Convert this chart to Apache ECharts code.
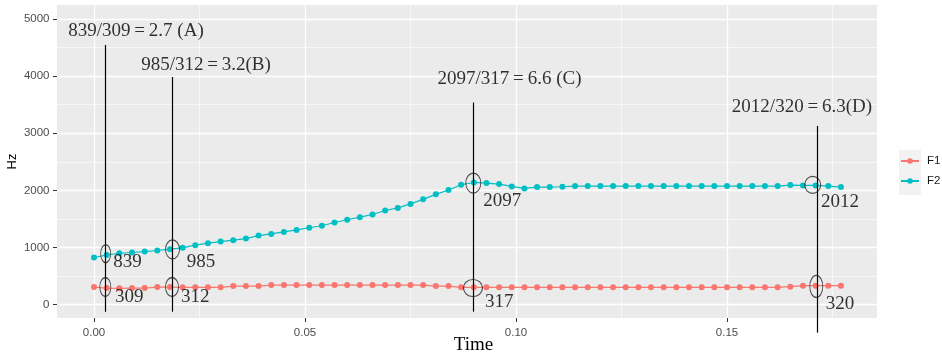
<!DOCTYPE html>
<html>
<head>
<meta charset="utf-8">
<script src="https://cdn.jsdelivr.net/npm/echarts@6/dist/echarts.min.js"></script>
<style>
  html, body { margin: 0; padding: 0; background: #fff; }
  #chart { width: 942px; height: 354px; }
</style>
</head>
<body>
<div id="chart"></div>
<script>
// time points (s)
const times = [0, 0.003, 0.006, 0.009, 0.012, 0.015, 0.018, 0.021, 0.024, 0.027,
  0.03, 0.033, 0.036, 0.039, 0.042, 0.045, 0.048, 0.051, 0.054, 0.057,
  0.06, 0.063, 0.066, 0.069, 0.072, 0.075, 0.078, 0.081, 0.084, 0.087,
  0.09, 0.093, 0.096, 0.099, 0.102, 0.105, 0.108, 0.111, 0.114, 0.117,
  0.12, 0.123, 0.126, 0.129, 0.132, 0.135, 0.138, 0.141, 0.144, 0.147,
  0.15, 0.153, 0.156, 0.159, 0.162, 0.165, 0.168, 0.171, 0.174, 0.177];

// formants (Hz)
const f1 = [309, 291, 286, 291, 291, 309, 309, 303, 303, 303,
  303, 326, 326, 326, 344, 344, 344, 344, 344, 344,
  344, 344, 344, 344, 344, 344, 344, 326, 326, 303,
  303, 303, 303, 303, 303, 303, 303, 303, 303, 303,
  303, 303, 303, 303, 303, 303, 303, 303, 303, 303,
  303, 303, 303, 303, 303, 315, 332, 332, 332, 332];
const f2 = [826, 870, 900, 913, 930, 948, 972, 995, 1042, 1077,
  1104, 1129, 1157, 1209, 1238, 1273, 1308, 1347, 1382, 1439,
  1486, 1531, 1578, 1648, 1694, 1764, 1844, 1931, 2007, 2099,
  2139, 2128, 2111, 2070, 2035, 2058, 2058, 2064, 2076, 2076,
  2076, 2076, 2076, 2076, 2076, 2076, 2076, 2076, 2076, 2076,
  2076, 2076, 2076, 2076, 2076, 2093, 2087, 2087, 2076, 2058];

// axis ticks
const xTicks = [0, 0.05, 0.1, 0.15];
const xMinor = [0.025, 0.075, 0.125, 0.175];
const yTicks = [0, 1000, 2000, 3000, 4000, 5000];
const yMinor = [500, 1500, 2500, 3500, 4500];

// annotations: ratio text, guide lines, rings, value text
const ratioLabels = ['839/309\u2009=\u20092.7 (A)', '985/312\u2009=\u20093.2(B)',
  '2097/317\u2009=\u20096.6 (C)', '2012/320\u2009=\u20096.3(D)'];
const ratioX = [0.00995, 0.02654, 0.09846, 0.16777];
const ratioY = [4790, 4187, 3955, 3462];
const guideX = [0.00268, 0.01855, 0.08988, 0.17133];
const guideTop = [4545, 3986, 3537, 3129];
const guideBottom = [-122, -122, -122, -490];
const ringX = [0.00277, 0.00268, 0.0186, 0.01848, 0.08988, 0.08981, 0.17031, 0.17116];
const ringY = [892, 309, 967, 309, 2128, 292, 2098, 320];
const valueLabels = ['839', '309', '985', '312', '2097', '317', '2012', '320'];
const valueX = [0.00458, 0.00498, 0.02197, 0.02062, 0.09226, 0.09265, 0.17227, 0.17338];
const valueY = [747, 131, 752, 131, 1818, 52, 1801, 17];

// ring sizes in px (w, h)
const ringSizes = [[10, 18], [11, 19], [14, 19], [13, 19], [15, 20], [19, 17], [16, 17], [13, 22]];

const chart = echarts.init(document.getElementById('chart'));

const serif = 'Liberation Serif';
const sans = 'Liberation Sans';

const option = {
  animation: false,
  grid: {
    left: 57, right: 65, top: 5, bottom: 36,
    outerBoundsMode: 'none',
    show: true, backgroundColor: '#EBEBEB', borderWidth: 0
  },
  legend: {
    data: ['F1', 'F2'],
    orient: 'vertical',
    left: 895, top: 150,
    itemWidth: 18, itemHeight: 7, itemGap: 8,
    textStyle: { color: '#1A1A1A', fontSize: 11.5, fontFamily: sans, padding: [0, 0, 0, 3] }
  },
  graphic: [{
    type: 'rect', left: 899, top: 150, z: -1,
    shape: { width: 22, height: 45 },
    style: { fill: '#F2F2F2' }
  }],
  xAxis: [{
    type: 'value', min: -0.00877, max: 0.18555,
    name: 'Time', nameLocation: 'middle', nameGap: 18, nameMoveOverlap: false,
    nameTextStyle: { fontFamily: serif, fontSize: 19, color: '#000', padding: [0, 0, 0, 13] },
    axisLine: { show: false, onZero: false },
    axisTick: { show: true, length: 4, customValues: xTicks, lineStyle: { color: '#333' } },
    axisLabel: {
      customValues: xTicks, margin: 9, color: '#4D4D4D', fontSize: 11.5, fontFamily: sans,
      formatter: v => v.toFixed(2)
    },
    splitLine: { show: true, lineStyle: { color: '#FFFFFF', width: 1.3 } }
  }, {
    type: 'value', min: -0.00877, max: 0.18555, position: 'bottom',
    axisLine: { show: false, onZero: false },
    axisTick: { show: false, customValues: xMinor },
    axisLabel: { show: false, customValues: xMinor },
    splitLine: { show: true, lineStyle: { color: '#FFFFFF', width: 0.6 } }
  }],
  yAxis: [{
    type: 'value', min: -233, max: 5245,
    name: 'Hz', nameLocation: 'middle', nameGap: 38, nameMoveOverlap: false,
    nameTextStyle: { fontFamily: sans, fontSize: 13, color: '#000' },
    axisLine: { show: false, onZero: false },
    axisTick: { show: true, length: 4, customValues: yTicks, lineStyle: { color: '#333' } },
    axisLabel: {
      customValues: yTicks, margin: 7.5, color: '#4D4D4D', fontSize: 11.5, fontFamily: sans,
      formatter: v => String(v)
    },
    splitLine: { show: true, lineStyle: { color: '#FFFFFF', width: 1.3 } }
  }, {
    type: 'value', min: -233, max: 5245, position: 'left',
    axisLine: { show: false, onZero: false },
    axisTick: { show: false, customValues: yMinor },
    axisLabel: { show: false, customValues: yMinor },
    splitLine: { show: true, lineStyle: { color: '#FFFFFF', width: 0.6 } }
  }],
  series: [
    {
      name: 'F1', type: 'line',
      data: times.map((t, i) => [t, f1[i]]),
      symbol: 'circle', symbolSize: 6, showAllSymbol: true,
      itemStyle: { color: '#F8766D' },
      lineStyle: { color: '#F8766D', width: 1.2 }
    },
    {
      name: 'F2', type: 'line',
      data: times.map((t, i) => [t, f2[i]]),
      symbol: 'circle', symbolSize: 6, showAllSymbol: true,
      itemStyle: { color: '#00BFC4' },
      lineStyle: { color: '#00BFC4', width: 1.2 }
    },
    {
      // vertical guides
      type: 'lines', coordinateSystem: 'cartesian2d', clip: false, z: 5,
      data: guideX.map((x, i) => ({ coords: [[x, guideTop[i]], [x, guideBottom[i]]] })),
      lineStyle: { color: '#000', width: 1.2, opacity: 1 }
    },
    {
      // rings round the measured points
      type: 'scatter', z: 6,
      data: ringX.map((x, i) => [x, ringY[i]]),
      symbol: 'path://M0,50 A50,50 0 1,1 100,50 A50,50 0 1,1 0,50 Z',
      symbolSize: (v, p) => ringSizes[p.dataIndex],
      itemStyle: { color: 'rgba(0,0,0,0)', borderColor: '#222', borderWidth: 1.1 },
      emphasis: { disabled: true }
    },
    {
      // ratio headings
      type: 'scatter', z: 7, symbolSize: 0,
      data: ratioX.map((x, i) => ({ value: [x, ratioY[i]], name: ratioLabels[i] })),
      label: {
        show: true, position: 'inside', formatter: '{b}',
        fontFamily: serif, fontSize: 19, color: '#000'
      },
      emphasis: { disabled: true }
    },
    {
      // values next to rings
      type: 'scatter', z: 7, symbolSize: 0,
      data: valueX.map((x, i) => ({ value: [x, valueY[i]], name: valueLabels[i] })),
      label: {
        show: true, position: 'right', distance: 0, formatter: '{b}',
        fontFamily: serif, fontSize: 19, color: '#000'
      },
      emphasis: { disabled: true }
    }
  ]
};

chart.setOption(option);
</script>
</body>
</html>
